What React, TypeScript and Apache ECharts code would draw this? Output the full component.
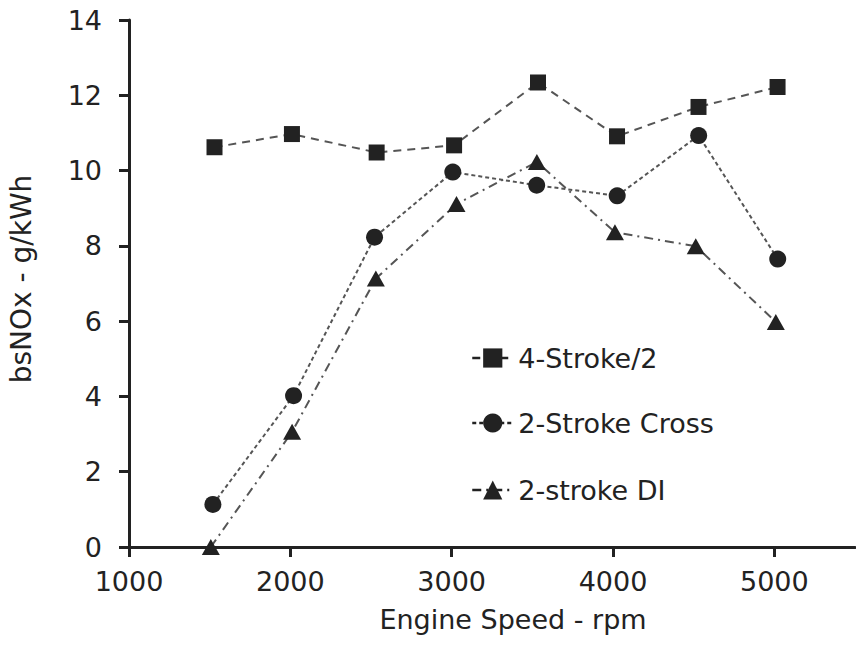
import React, { useEffect, useRef } from "react";
import * as echarts from "echarts";

// Engine speed (rpm) and brake-specific NOx (g/kWh) for each engine type
const fourStrokeSpeed = [1530, 2010, 2535, 3015, 3535, 4025, 4530, 5020];
const fourStrokeNOx = [10.62, 10.97, 10.48, 10.67, 12.34, 10.91, 11.69, 12.22];

const crossSpeed = [1520, 2020, 2522, 3007, 3527, 4026, 4531, 5021];
const crossNOx = [1.13, 4.02, 8.23, 9.96, 9.61, 9.33, 10.93, 7.65];

const diSpeed = [1507, 2011, 2530, 3030, 3528, 4012, 4513, 5009];
const diNOx = [0.0, 3.06, 7.13, 9.11, 10.23, 8.36, 7.99, 5.98];

const seriesNames = ["4-Stroke/2", "2-Stroke Cross", "2-stroke DI"];
const xTickValues = [1000, 2000, 3000, 4000, 5000];

const FONT = "DejaVu Sans";
const INK = "#222";

const zip = (xs: number[], ys: number[]) => xs.map((x, i) => [x, ys[i]]);

export default function App() {
  const ref = useRef<HTMLDivElement>(null);

  useEffect(() => {
    document.body.style.margin = "0";
    if (!ref.current) return;
    const chart = echarts.init(ref.current, undefined, { renderer: "svg" });

    const legendBase = {
      orient: "vertical" as const,
      left: 471,
      padding: 0,
      itemWidth: 41,
      itemHeight: 24,
      lineStyle: { color: INK, width: 2.5 },
      textStyle: { fontFamily: FONT, fontSize: 27, color: INK, lineHeight: 28 },
    };

    chart.setOption({
      animation: false,
      backgroundColor: "#fff",
      grid: { left: 129, right: 1, top: 20, bottom: 101, containLabel: false },
      xAxis: {
        type: "value",
        min: 1000,
        max: 5500,
        interval: 1000,
        axisLine: { show: true, onZero: false, lineStyle: { color: INK, width: 3 } },
        axisTick: {
          show: true,
          length: 10,
          customValues: xTickValues,
          lineStyle: { color: INK, width: 3 },
        },
        axisLabel: {
          margin: 21,
          customValues: xTickValues,
          formatter: (v: number) => String(v),
          fontFamily: FONT,
          fontSize: 27,
          color: INK,
        },
        splitLine: { show: false },
      },
      yAxis: {
        type: "value",
        min: 0,
        max: 14,
        interval: 2,
        axisLine: { show: true, onZero: false, lineStyle: { color: INK, width: 3 } },
        axisTick: { show: true, length: 10, lineStyle: { color: INK, width: 3 } },
        axisLabel: { margin: 27, fontFamily: FONT, fontSize: 27, color: INK },
        splitLine: { show: false },
      },
      legend: [
        { ...legendBase, top: 344, data: [seriesNames[0]] },
        { ...legendBase, top: 409, data: [seriesNames[1]] },
        { ...legendBase, top: 476, data: [seriesNames[2]] },
      ],
      graphic: [
        {
          type: "text",
          x: 513,
          y: 619,
          style: {
            text: "Engine Speed - rpm",
            fontFamily: FONT,
            fontSize: 27,
            fill: INK,
            textAlign: "center",
            textVerticalAlign: "middle",
          },
        },
        {
          type: "text",
          x: 21,
          y: 279,
          rotation: Math.PI / 2,
          style: {
            text: "bsNOx - g/kWh",
            fontFamily: FONT,
            fontSize: 28,
            fill: INK,
            textAlign: "center",
            textVerticalAlign: "middle",
          },
        },
      ],
      series: [
        {
          name: seriesNames[0],
          type: "line",
          data: zip(fourStrokeSpeed, fourStrokeNOx),
          symbol: "rect",
          symbolSize: 16,
          itemStyle: { color: INK },
          lineStyle: { color: "#555", width: 2, type: [8, 6] },
        },
        {
          name: seriesNames[1],
          type: "line",
          data: zip(crossSpeed, crossNOx),
          symbol: "circle",
          symbolSize: 17,
          itemStyle: { color: INK },
          lineStyle: { color: "#555", width: 2, type: [4, 3] },
        },
        {
          name: seriesNames[2],
          type: "line",
          data: zip(diSpeed, diNOx),
          symbol: "triangle",
          symbolSize: [18, 16],
          itemStyle: { color: INK },
          lineStyle: { color: "#555", width: 2, type: [9, 5, 2, 5] },
        },
      ],
    });

    return () => chart.dispose();
  }, []);

  return <div ref={ref} style={{ width: 856, height: 648 }} />;
}
